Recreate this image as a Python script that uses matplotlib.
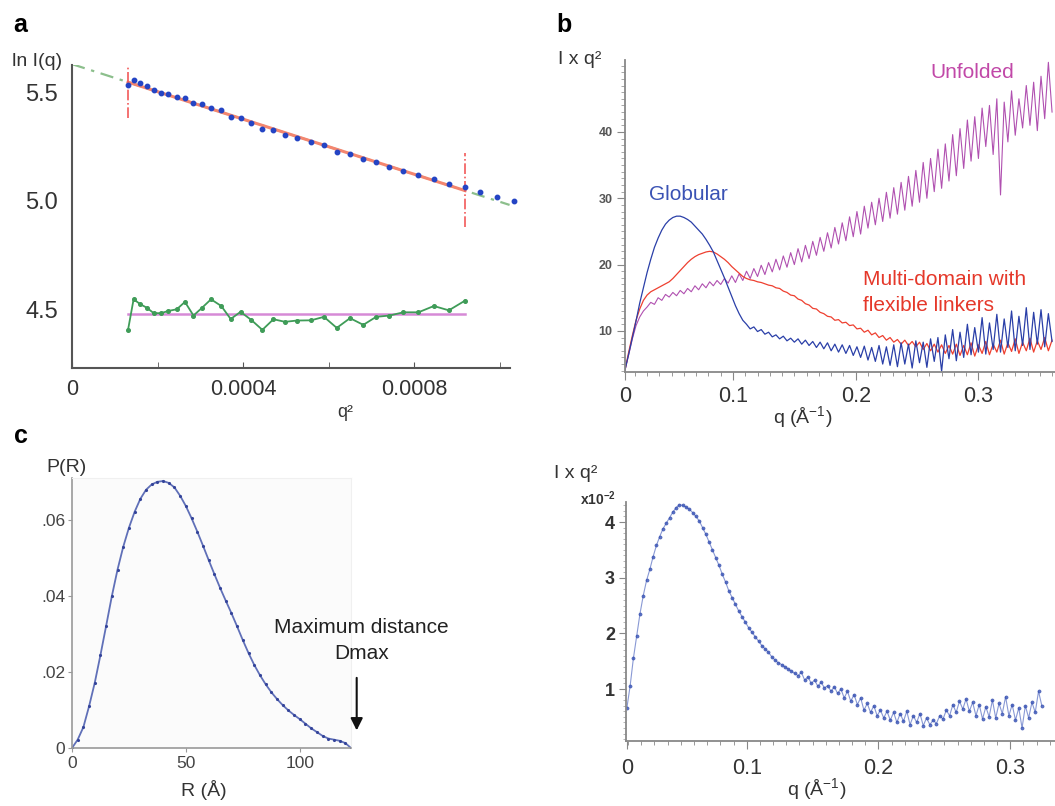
import numpy as np
import matplotlib
matplotlib.use('Agg')
import matplotlib.pyplot as plt
from matplotlib.ticker import MultipleLocator, FixedLocator, FixedFormatter

plt.rcParams['font.family'] = ['Liberation Sans', 'DejaVu Sans']
plt.rcParams['mathtext.fontset'] = 'custom'
plt.rcParams['mathtext.rm'] = 'Liberation Sans'

W, H = 1055, 806

# ---- panel a: Guinier plot ----
guinier_q2 = [0.000131, 0.000144, 0.000160, 0.000175, 0.000191, 0.000208, 0.000225,
              0.000245, 0.000264, 0.000284, 0.000303, 0.000325, 0.000349, 0.000371,
              0.000394, 0.000419, 0.000445, 0.000471, 0.000498, 0.000526, 0.000559,
              0.000589, 0.000619, 0.000650, 0.000681, 0.000711, 0.000742, 0.000775,
              0.000810, 0.000846, 0.000881, 0.000919, 0.000955, 0.000994, 0.001033]
guinier_lnI = [5.534, 5.557, 5.542, 5.529, 5.511, 5.498, 5.491, 5.480, 5.475, 5.449,
               5.445, 5.426, 5.417, 5.387, 5.381, 5.357, 5.331, 5.326, 5.304, 5.288,
               5.271, 5.256, 5.225, 5.215, 5.191, 5.177, 5.157, 5.138, 5.117, 5.099,
               5.076, 5.062, 5.042, 5.018, 4.999]
# residuals, drawn offset around 4.476
resid_lnI = [4.404, 4.545, 4.522, 4.506, 4.481, 4.481, 4.491, 4.499, 4.533, 4.470,
             4.504, 4.545, 4.514, 4.454, 4.487, 4.450, 4.404, 4.453, 4.441, 4.447,
             4.448, 4.464, 4.413, 4.458, 4.427, 4.464, 4.470, 4.485, 4.485, 4.514,
             4.494, 4.539]
resid_zero = 4.476
lnI0 = 5.63
guinier_slope = -635.0

# ---- panel b: Kratky plots ----
kr_q0, kr_dq = 0.012, 0.003
globular = [4.1, 6.5, 9.0, 11.5, 14.2, 16.5, 18.8, 20.8, 22.6, 24.0, 25.2, 26.1, 26.7,
            27.1, 27.3, 27.3, 27.1, 26.8, 26.4, 25.8, 25.2, 24.6, 23.8, 22.9, 21.9,
            20.6, 19.3, 18.0, 16.6, 15.2, 13.8, 12.6, 11.6, 11.0, 10.3, 10.6, 9.9,
            10.2, 9.5, 9.8, 9.1, 9.4, 8.8, 9.2, 8.5, 8.9, 8.3, 8.8, 8.0, 8.6, 7.8, 8.4,
            7.5, 8.3, 7.3, 8.2, 7.0, 8.0, 6.8, 7.9, 6.6, 7.8, 6.3, 7.6, 6.0, 7.7, 5.6,
            7.5, 5.4, 7.8, 5.0, 7.6, 4.8, 7.9, 4.6, 8.2, 5.0, 8.0, 4.4, 8.5, 5.2, 8.3,
            4.5, 8.8, 5.4, 9.0, 3.9, 9.4, 5.8, 10.2, 5.5, 9.8, 6.0, 11.0, 6.4, 10.5,
            6.8, 12.0, 6.5, 11.2, 7.2, 12.5, 6.8, 11.8, 7.5, 13.0, 7.0, 12.2, 7.8, 13.5,
            7.2, 12.8, 8.0, 13.2, 7.6, 12.6, 8.4]
multidomain = [4.1, 6.8, 9.3, 11.6, 13.3, 14.6, 15.4, 15.9, 16.2, 16.5, 16.8, 17.1,
               17.4, 17.9, 18.5, 19.1, 19.7, 20.3, 20.8, 21.2, 21.5, 21.7, 21.9, 22.0,
               21.9, 21.6, 21.2, 20.8, 20.3, 19.7, 19.2, 18.7, 18.2, 17.9, 17.7, 17.6,
               17.4, 17.3, 17.1, 16.9, 16.8, 16.5, 16.4, 16.0, 15.8, 15.4, 15.3, 14.8,
               14.6, 14.1, 13.9, 13.4, 13.3, 12.8, 12.6, 12.2, 12.1, 11.6, 11.7, 11.2,
               11.3, 10.8, 10.9, 10.3, 10.4, 9.8, 10.1, 9.4, 9.7, 9.0, 9.3, 8.6, 9.0,
               8.3, 8.7, 8.0, 8.6, 7.8, 8.4, 7.6, 8.3, 7.2, 8.1, 7.0, 8.0, 6.8, 7.9, 6.6,
               7.8, 6.5, 8.0, 6.3, 7.8, 6.4, 8.2, 6.2, 7.9, 6.6, 8.4, 6.4, 8.0, 6.8, 8.6,
               6.5, 8.2, 6.9, 8.8, 6.6, 8.3, 7.0, 8.9, 6.8, 8.5, 7.2, 9.0, 7.0, 8.6]
unfolded = [4.1, 6.4, 8.8, 10.8, 12.1, 13.0, 13.6, 14.3, 14.0, 15.0, 14.6, 15.5, 15.1,
            15.8, 15.3, 16.1, 15.6, 16.4, 15.9, 16.8, 16.2, 17.1, 16.5, 17.4, 16.8,
            17.6, 17.0, 17.9, 17.2, 18.3, 17.3, 18.6, 17.6, 19.0, 17.9, 19.4, 18.2,
            19.9, 18.5, 20.3, 18.9, 20.8, 19.2, 21.3, 19.6, 21.8, 20.0, 22.4, 20.4,
            22.9, 20.9, 23.5, 21.4, 24.1, 22.0, 24.8, 22.5, 25.6, 23.1, 26.3, 23.6,
            27.2, 24.2, 28.0, 24.6, 28.8, 25.5, 29.4, 26.0, 30.0, 26.5, 30.9, 27.0,
            31.6, 27.6, 32.4, 28.2, 33.3, 28.8, 34.2, 29.4, 35.4, 30.0, 36.0, 31.0,
            37.4, 31.5, 38.2, 32.6, 39.6, 33.4, 40.5, 34.5, 41.8, 35.6, 42.3, 36.0,
            43.6, 37.8, 44.0, 36.6, 45.0, 30.5, 44.5, 38.5, 46.2, 39.5, 45.0, 40.6,
            47.0, 41.0, 47.5, 40.2, 48.4, 42.0, 50.5, 43.0]

# ---- panel c: pair distance distribution ----
pr_R = [0, 2.5, 5, 7.5, 10, 12.5, 15, 17.5, 20, 22.5, 25, 27.5, 30, 32.5, 35, 37.5, 40,
        42.5, 45, 47.5, 50, 52.5, 55, 57.5, 60, 62.5, 65, 67.5, 70, 72.5, 75, 77.5, 80,
        82.5, 85, 87.5, 90, 92.5, 95, 97.5, 100, 102.5, 105, 107.5, 110, 112.5, 115,
        117.5, 120, 122.5]
pr_P = [0.0, 0.0022, 0.0055, 0.0110, 0.0172, 0.0245, 0.0322, 0.0400, 0.0470, 0.0530,
        0.0580, 0.0622, 0.0656, 0.0680, 0.0694, 0.0701, 0.0703, 0.0698, 0.0686, 0.0664,
        0.0637, 0.0605, 0.0570, 0.0533, 0.0495, 0.0458, 0.0422, 0.0388, 0.0355, 0.0320,
        0.0284, 0.0250, 0.0219, 0.0192, 0.0168, 0.0147, 0.0129, 0.0113, 0.0099, 0.0087,
        0.0076, 0.0064, 0.0052, 0.0042, 0.0032, 0.0025, 0.0022, 0.0019, 0.0013, 0.0]

# ---- panel d: Kratky plot (x10^-2) ----
kd_q0, kd_dq = 0.009, 0.0025
kd_vals = [0.65, 1.05, 1.55, 1.95, 2.35, 2.68, 2.95, 3.15, 3.38, 3.58, 3.74, 3.88, 3.98,
           4.08, 4.18, 4.26, 4.31, 4.30, 4.27, 4.23, 4.17, 4.10, 4.02, 3.90, 3.78, 3.64,
           3.50, 3.36, 3.22, 3.06, 2.92, 2.76, 2.64, 2.52, 2.40, 2.30, 2.20, 2.10, 2.02,
           1.94, 1.86, 1.78, 1.72, 1.66, 1.58, 1.52, 1.47, 1.44, 1.40, 1.36, 1.32, 1.28,
           1.24, 1.30, 1.16, 1.22, 1.10, 1.16, 1.05, 1.12, 1.02, 1.06, 0.96, 1.04, 0.92,
           1.00, 0.84, 0.96, 0.78, 0.90, 0.72, 0.84, 0.62, 0.74, 0.58, 0.70, 0.52, 0.62,
           0.48, 0.60, 0.44, 0.58, 0.40, 0.56, 0.42, 0.60, 0.36, 0.52, 0.40, 0.56, 0.34,
           0.48, 0.36, 0.44, 0.38, 0.52, 0.46, 0.62, 0.52, 0.72, 0.58, 0.78, 0.64, 0.82,
           0.60, 0.76, 0.52, 0.72, 0.46, 0.68, 0.50, 0.80, 0.48, 0.74, 0.56, 0.86, 0.52,
           0.72, 0.44, 0.66, 0.30, 0.70, 0.48, 0.76, 0.58, 0.96, 0.70]

fig = plt.figure(figsize=(W / 100, H / 100), dpi=100)


def box(l, t, r, b):
    return [l / W, 1 - b / H, (r - l) / W, (b - t) / H]


def ftext(x, y, s, **kw):
    kw.setdefault('ha', 'center')
    kw.setdefault('va', 'center')
    fig.text(x / W, 1 - y / H, s, **kw)


# ===== a =====
ax = fig.add_axes(box(72, 65, 510, 368))
q2 = np.array(guinier_q2)
n_fit = len(resid_lnI)
q2_fit = q2[:n_fit]
xline = np.array([0, q2[-1] - 0.00001])
ax.plot(xline, lnI0 + guinier_slope * xline, color='#8cbf8c', lw=1.6,
        linestyle=(0, (6, 3, 1.5, 3)))
ax.plot([q2_fit[0], q2_fit[-1]], lnI0 + guinier_slope * np.array([q2_fit[0], q2_fit[-1]]),
        color='#f4866f', lw=2.2)
ax.plot(q2, guinier_lnI, 'o', color='#2444c4', ms=3.2, clip_on=False, zorder=5)
ax.plot([q2_fit[0]] * 2, [5.38, 5.634], color='#f25a5a', lw=1.2, linestyle='-.')
ax.plot([q2_fit[-1]] * 2, [4.88, 5.219], color='#f25a5a', lw=1.2, linestyle='-.')
ax.plot([q2_fit[0], q2_fit[-1]], [resid_zero] * 2, color='#d68ad6', lw=1.8)
ax.plot(q2_fit, resid_lnI, '-o', color='#3f9c58', lw=1.3, ms=2.6)
ax.set_xlim(0, 0.001024)
ax.set_ylim(4.228, 5.626)
for s in ['top', 'right']:
    ax.spines[s].set_visible(False)
for s in ['left', 'bottom']:
    ax.spines[s].set_color('#555')
    ax.spines[s].set_linewidth(1.5)
ax.set_xticks([0, 0.0004, 0.0008])
ax.set_xticklabels(['0', '0.0004', '0.0008'])
ax.xaxis.set_minor_locator(FixedLocator([0.0002, 0.0006, 0.001]))
ax.tick_params(axis='x', which='both', direction='in', length=4, color='#555',
               labelsize=15.5, labelcolor='#333', pad=8)
ax.set_yticks([4.5, 5.0, 5.5])
ax.set_yticklabels(['4.5', '5.0', '5.5'])
ax.tick_params(axis='y', length=0, labelsize=17, labelcolor='#333', pad=10)

# ===== b =====
ax = fig.add_axes(box(625, 60, 1055, 372))
ax.plot(kr_q0 + kr_dq * np.arange(len(unfolded)), unfolded, color='#b050b0', lw=0.8)
ax.plot(kr_q0 + kr_dq * np.arange(len(multidomain)), multidomain, color='#ee4030', lw=0.9)
ax.plot(kr_q0 + kr_dq * np.arange(len(globular)), globular, color='#2a3fa8', lw=0.9)
ax.set_xlim(kr_q0, 0.3624)
ax.set_ylim(3.8, 50.85)
for s in ['top', 'right']:
    ax.spines[s].set_visible(False)
for s in ['left', 'bottom']:
    ax.spines[s].set_color('#888')
    ax.spines[s].set_linewidth(1.3)
ax.xaxis.set_major_locator(FixedLocator([kr_q0, 0.1, 0.2, 0.3]))
ax.xaxis.set_major_formatter(FixedFormatter(['0', '0.1', '0.2', '0.3']))
ax.xaxis.set_minor_locator(MultipleLocator(0.01))
ax.set_yticks([10, 20, 30, 40])
ax.yaxis.set_minor_locator(MultipleLocator(1))
ax.tick_params(axis='x', which='major', length=6, color='#888', labelsize=15.5,
               labelcolor='#333', pad=4)
ax.tick_params(axis='x', which='minor', length=3, color='#888')
ax.tick_params(axis='y', which='major', length=6, color='#888', labelsize=9,
               labelcolor='#555', pad=3)
for lab in ax.get_yticklabels():
    lab.set_fontweight('bold')
ax.tick_params(axis='y', which='minor', length=3, color='#999')
ax.text(0.0633, 30.6, 'Globular', color='#3a52b4', fontsize=15, ha='center', va='center')
ax.text(0.2948, 48.9, 'Unfolded', color='#c148a8', fontsize=15, ha='center', va='center')
ax.text(0.206, 17.8, 'Multi-domain with', color='#e5382a', fontsize=15, ha='left', va='center')
ax.text(0.206, 13.8, 'flexible linkers', color='#e5382a', fontsize=15, ha='left', va='center')

# ===== c =====
ax = fig.add_axes(box(72, 478, 351, 748))
ax.set_facecolor('#fbfbfb')
ax.plot(pr_R, pr_P, '-', color='#6070b8', lw=1.3)
ax.plot(pr_R, pr_P, '.', color='#34449a', ms=2.5)
ax.set_xlim(0, 122.5)
ax.set_ylim(0, 0.0711)
for s in ['top', 'right']:
    ax.spines[s].set_color('#f0f0f0')
for s in ['left', 'bottom']:
    ax.spines[s].set_color('#999')
    ax.spines[s].set_linewidth(1.2)
ax.set_xticks([0, 50, 100])
ax.set_yticks([0, 0.02, 0.04, 0.06])
ax.set_yticklabels(['0', '.02', '.04', '.06'])
ax.tick_params(axis='both', length=3, color='#999', labelsize=12.5, labelcolor='#444')
ax.tick_params(axis='y', pad=2)
ax.tick_params(axis='x', pad=3)
ax.annotate('', xy=(125, 0.0039), xytext=(125, 0.0192), annotation_clip=False,
            arrowprops=dict(arrowstyle='-|>', color='#111', lw=1.5, mutation_scale=18))
ax.text(127.2, 0.0318, 'Maximum distance', fontsize=15, ha='center', va='center',
        color='#222', clip_on=False)
ax.text(127.2, 0.0250, 'Dmax', fontsize=15, ha='center', va='center', color='#222',
        clip_on=False)

# ===== d =====
ax = fig.add_axes(box(626, 502, 1055, 741))
qd = kd_q0 + kd_dq * np.arange(len(kd_vals))
ax.plot(qd, kd_vals, '-', color='#3a55b8', lw=0.8, alpha=0.6)
ax.plot(qd, kd_vals, 'o', color='#3a55b8', ms=2.3, alpha=0.8, mec='#2b45a8', mew=0.4)
ax.set_xlim(0.0084, 0.334)
ax.set_ylim(0.066, 4.36)
for s in ['top', 'right']:
    ax.spines[s].set_visible(False)
for s in ['left', 'bottom']:
    ax.spines[s].set_color('#888')
    ax.spines[s].set_linewidth(1.3)
ax.xaxis.set_major_locator(FixedLocator([kd_q0, 0.1, 0.2, 0.3]))
ax.xaxis.set_major_formatter(FixedFormatter(['0', '0.1', '0.2', '0.3']))
ax.xaxis.set_minor_locator(MultipleLocator(0.01))
ax.set_yticks([1, 2, 3, 4])
ax.yaxis.set_minor_locator(MultipleLocator(0.1))
ax.tick_params(axis='x', which='major', length=6, color='#888', labelsize=15.5,
               labelcolor='#333', pad=6)
ax.tick_params(axis='x', which='minor', length=3, color='#888')
ax.tick_params(axis='y', which='major', length=5, color='#888', labelsize=13,
               labelcolor='#333', pad=3)
for lab in ax.get_yticklabels():
    lab.set_fontweight('bold')
ax.tick_params(axis='y', which='minor', length=2.5, color='#aaa')

# ===== figure texts =====
ftext(20, 25, 'a', fontsize=18, fontweight='bold')
ftext(564, 25, 'b', fontsize=18, fontweight='bold')
ftext(21, 436, 'c', fontsize=18, fontweight='bold')
ftext(37, 62, 'ln I(q)', fontsize=14, color='#333')
ftext(345, 412, 'q²', fontsize=13, color='#333')
ftext(580, 60, 'I x q²', fontsize=14, color='#333')
ftext(803, 418, r'q (Å$^{\mathregular{-1}}$)', fontsize=14, color='#333')
ftext(67, 467, 'P(R)', fontsize=14, color='#333')
ftext(204, 790, 'R (Å)', fontsize=14, color='#333')
ftext(576, 473, 'I x q²', fontsize=14, color='#333')
ftext(598, 499, r'x10$^{\mathregular{-2}}$', fontsize=10, color='#333', fontweight='bold')
ftext(817, 790, r'q (Å$^{\mathregular{-1}}$)', fontsize=14, color='#333')

fig.savefig('out.png', dpi=100)
